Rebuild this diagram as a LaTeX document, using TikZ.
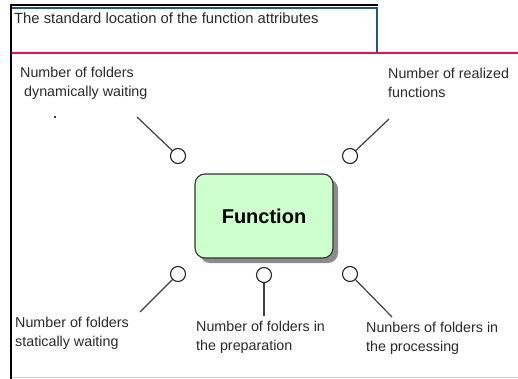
\documentclass[tikz,border=0pt]{standalone}
\usepackage{fontspec}
\setmainfont{Liberation Sans}
\usetikzlibrary{shadows}
\definecolor{frameteal}{HTML}{1D5A78}
\definecolor{redrule}{HTML}{F5104A}
\definecolor{bluerule}{HTML}{A8D8E4}
\definecolor{fungreen}{HTML}{CCFFCC}
\definecolor{labeltext}{HTML}{2A2A2A}
\definecolor{stemgray}{HTML}{404040}
\tikzset{
  % two-line labels: the base anchor sits on the last line
  lbl/.style={anchor=base west, inner sep=0pt, align=left, text=labeltext,
    font=\fontsize{14.3}{19}\selectfont},
  attr/.style={circle, draw=black!85, line width=1.1pt, fill=white,
    minimum size=15pt, inner sep=0pt},
  stem/.style={draw=stemgray, line width=1.2pt},
  funbox/.style={rounded corners=10pt, draw=black!80, line width=1.1pt,
    fill=fungreen, minimum width=138pt, minimum height=84pt,
    font=\fontsize{20}{24}\selectfont\bfseries,
    drop shadow={shadow xshift=5pt, shadow yshift=-5pt, fill=black!45, opacity=1}}
}
\begin{document}
\begin{tikzpicture}[x=1pt,y=-1pt]
\useasboundingbox (0,0) rectangle (518,379);
\fill[white] (0,0) rectangle (518,379);

% page frame and title band
\draw[black, line width=2pt] (11,379) -- (11,5.5) -- (378,5.5);
\draw[frameteal, line width=1.3pt] (12,8) -- (377,8) -- (377,52);
\draw[redrule, line width=2.4pt] (12,53) -- (518,53);
\draw[bluerule, line width=1.2pt] (12,377.5) -- (518,377.5);
\node[lbl, font=\fontsize{14.8}{18}\selectfont] (title) at (14,24)
  {The standard location of the function attributes};

% the function and its attribute sockets
\node[funbox] (fun) at (264,216) {Function};

\node[attr] (c1) at (178,156) {};
\node[attr] (c2) at (350,156) {};
\node[attr] (c3) at (178,274) {};
\node[attr] (c4) at (264,275) {};
\node[attr] (c5) at (350,274) {};

\coordinate (e1) at (137,117);
\coordinate (e2) at (389,119);
\coordinate (e3) at (140,312);
\coordinate (e4) at (264,316);
\coordinate (e5) at (392,317);

\draw[stem] (e1) -- (c1);
\draw[stem] (e2) -- (c2);
\draw[stem] (e3) -- (c3);
\draw[stem] (e4) -- (c4);
\draw[stem] (e5) -- (c5);

% labels
\node[lbl] (t1) at (20,97) {Number of folders\\\ dynamically waiting};
\node[lbl] (t2) at (388,98) {Number of realized\\functions};
\node[lbl] (t3) at (15,346) {Number of folders\\statically waiting};
\node[lbl] (t4) at (196,350) {Number of folders in\\the preparation};
\node[lbl] (t5) at (366,351) {Nunbers of folders in\\the processing};

% stray tick below the first label
\fill[stemgray] (53.5,116.5) rectangle (56,117.7);
\end{tikzpicture}
\end{document}
